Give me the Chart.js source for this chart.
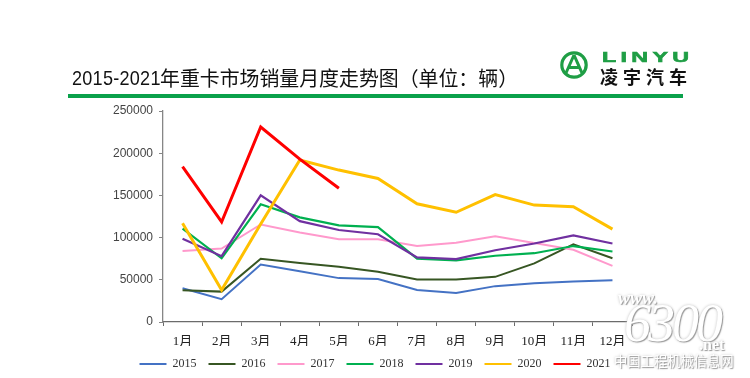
<!DOCTYPE html>
<html>
<head>
<meta charset="utf-8">
<script src="https://cdn.jsdelivr.net/npm/chart.js@4.4.1/dist/chart.umd.min.js"></script>
<style>
html,body{margin:0;padding:0;background:#fff;}
#wrap{position:relative;width:750px;height:378px;overflow:hidden;background:#fff;}
#c{position:absolute;left:0;top:0;}
#titleNum{position:absolute;left:72px;top:65px;font-family:"Liberation Sans",Arial,sans-serif;font-size:21px;line-height:26px;color:#111;white-space:nowrap;transform:scaleX(0.86);transform-origin:0 0;letter-spacing:0.3px;}
#title{position:absolute;left:160px;top:65px;font-family:"Noto Sans CJK SC",sans-serif;font-size:19.9px;line-height:26px;color:#111;white-space:nowrap;}
#rule{position:absolute;left:68px;top:94px;width:615px;height:3.5px;background:#0aa14b;}
#logoEn{position:absolute;left:602px;top:48.5px;font-family:"Liberation Sans",Arial,sans-serif;font-weight:bold;font-size:15px;line-height:15px;letter-spacing:2.8px;color:#1f9e45;-webkit-text-stroke:0.6px #1f9e45;transform:scaleX(1.55);transform-origin:0 0;white-space:nowrap;}
#logoCn{position:absolute;left:600px;top:65.5px;font-family:"Noto Sans CJK SC",sans-serif;font-weight:bold;font-size:18px;line-height:20px;letter-spacing:5px;color:#111;white-space:nowrap;}
#logoMark{position:absolute;left:558px;top:49px;}
.wm{position:absolute;color:#fff;white-space:nowrap;text-shadow:1px 1px 1px #9a9a9a,0 0 3px #c0c0c0;}
#wm1{left:618px;top:288px;font:italic bold 18px "Liberation Serif",serif;}
#wm2{left:624px;top:292px;font:italic 54px "Liberation Serif",serif;letter-spacing:-3px;}
#wm3{left:699px;top:336px;font:bold 16px "Liberation Serif",serif;}
#wm4{left:614px;top:351px;font:13.3px "Noto Sans CJK SC",sans-serif;}
</style>
</head>
<body>
<div id="wrap">
  <canvas id="c" width="750" height="378"></canvas>
  <div id="titleNum">2015-2021</div>
  <div id="title">年重卡市场销量月度走势图（单位：辆）</div>
  <div id="rule"></div>
  <svg id="logoMark" width="32" height="32" viewBox="0 0 32 32">
    <circle cx="16" cy="16" r="12.2" fill="none" stroke="#1f9e45" stroke-width="3.2"/>
    <path d="M16 6 L8 24 M16 6 L24 24 M11 18.5 L21 18.5" fill="none" stroke="#1f9e45" stroke-width="3" stroke-linejoin="round"/>
  </svg>
  <div id="logoEn">LINYU</div>
  <div id="logoCn">凌宇汽车</div>
  <div class="wm" id="wm1">www.</div>
  <div class="wm" id="wm2">6300</div>
  <div class="wm" id="wm3">.net</div>
  <div class="wm" id="wm4">中国工程机械信息网</div>
</div>
<script>
const months = ['1月','2月','3月','4月','5月','6月','7月','8月','9月','10月','11月','12月'];
const years = ['2015','2016','2017','2018','2019','2020','2021'];
const s2015 = [40000, 27000, 68000, 60000, 52000, 51000, 38000, 34500, 42500, 46000, 48000, 49500];
const s2016 = [37500, 36000, 75000, 70000, 65500, 59500, 50500, 50500, 53500, 69500, 92000, 75500];
const s2017 = [84000, 87000, 115500, 106000, 98000, 98000, 90000, 94000, 101500, 93500, 85500, 66500];
const s2018 = [110500, 75500, 139500, 124000, 114500, 112500, 75000, 73000, 78500, 81500, 90000, 83500];
const s2019 = [98500, 78000, 150000, 119500, 109000, 104000, 76500, 74500, 85000, 93000, 102500, 93000];
const s2020 = [117000, 38000, 116000, 192000, 180000, 170000, 140000, 130000, 151000, 138500, 136500, 110000];
const s2021 = [184000, 118500, 231000, 193000, 158500];
const yTicks = [0, 50000, 100000, 150000, 200000, 250000];

const seriesList = [s2015, s2016, s2017, s2018, s2019, s2020, s2021];
const colors = ['#4472C4', '#375623', '#FF99CC', '#00B050', '#7030A0', '#FFC000', '#FF0000'];
const widths = [2, 2, 2, 2.2, 2.2, 3, 3];

const datasets = years.map((y, i) => ({
  label: y,
  data: seriesList[i],
  borderColor: colors[i],
  backgroundColor: colors[i],
  borderWidth: widths[i],
  pointRadius: 0,
  pointHoverRadius: 0,
  tension: 0,
  fill: false,
  order: years.length - i
}));

new Chart(document.getElementById('c'), {
  type: 'line',
  data: { labels: months, datasets },
  options: {
    responsive: false,
    animation: false,
    events: [],
    layout: { padding: { top: 111, left: 0, right: 0, bottom: -2 } },
    plugins: {
      tooltip: { enabled: false },
      legend: {
        position: 'bottom',
        labels: {
          boxWidth: 27,
          boxHeight: 2,
          padding: 12,
          color: '#333',
          font: { family: '"Liberation Serif", serif', size: 12 },
          sort: (a, b) => a.datasetIndex - b.datasetIndex,
          generateLabels: (chart) => Chart.defaults.plugins.legend.labels.generateLabels(chart)
            .map(l => Object.assign(l, { lineWidth: 0, fillStyle: colors[l.datasetIndex] }))
        }
      }
    },
    scales: {
      x: {
        offset: true,
        grid: { offset: true, drawOnChartArea: false, drawTicks: true, tickLength: 4, color: '#6b6b6b' },
        border: { display: true, color: '#6b6b6b', width: 1.3 },
        ticks: {
          color: '#222',
          padding: 8,
          maxRotation: 0,
          autoSkip: false,
          font: { family: '"Liberation Serif", "Noto Sans CJK SC", serif', size: 13 }
        },
        afterFit(s) { s.height = 24; }
      },
      y: {
        min: 0,
        max: 250000,
        afterBuildTicks(s) { s.ticks = yTicks.map(v => ({ value: v })); },
        grid: { drawOnChartArea: false, drawTicks: true, tickLength: 4, color: '#868686' },
        border: { display: true, color: '#868686', width: 1.3 },
        ticks: {
          color: '#444',
          padding: 6,
          font: { family: '"Liberation Sans", Arial, sans-serif', size: 12 },
          callback: v => String(v)
        },
        afterFit(s) { s.width = 163; }
      },
      yR: {
        position: 'right',
        display: true,
        grid: { display: false },
        border: { display: false },
        ticks: { display: false },
        afterFit(s) { s.width = 118; }
      }
    }
  }
});
</script>
</body>
</html>
